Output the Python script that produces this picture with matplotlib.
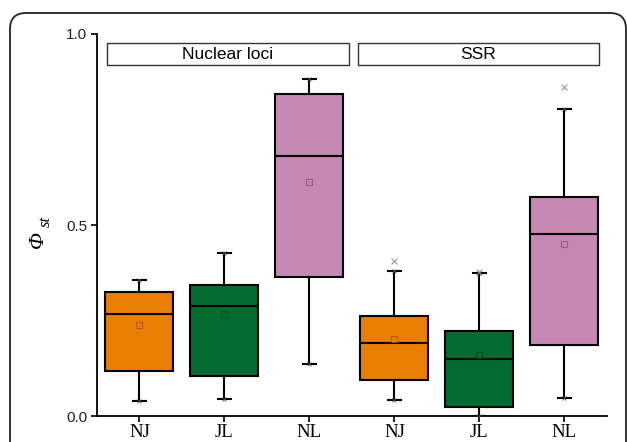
import matplotlib
matplotlib.use("Agg")
import matplotlib.pyplot as plt
from matplotlib.patches import FancyBboxPatch, Rectangle

# ---- data ----
labels = ["NJ", "JL", "NL", "NJ", "JL", "NL"]
groups = ["Nuclear loci", "SSR"]
whislo = [0.039, 0.045, 0.136, 0.042, 0.000, 0.047]
q1     = [0.118, 0.105, 0.364, 0.094, 0.024, 0.186]
med    = [0.267, 0.288, 0.681, 0.191, 0.149, 0.476]
q3     = [0.325, 0.343, 0.843, 0.262, 0.223, 0.573]
whishi = [0.356, 0.427, 0.882, 0.380, 0.374, 0.804]
means  = [0.238, 0.267, 0.613, 0.202, 0.160, 0.450]
outliers = [[], [], [], [0.406], [0.377], [0.861]]

fills = ["#E87E04", "#036B30", "#C588B2", "#E87E04", "#036B30", "#C588B2"]
mean_edges = ["#B35A00", "#02471F", "#A05A8A", "#B35A00", "#02471F", "#A05A8A"]

fig = plt.figure(figsize=(6.27, 4.42), dpi=100)

# rounded frame around the figure
frame = FancyBboxPatch((0.10, -0.3), 6.16, 4.59,
                       boxstyle="round,pad=0,rounding_size=0.16",
                       transform=fig.dpi_scale_trans, fill=False,
                       edgecolor="#222222", linewidth=1.3, clip_on=False)
fig.patches.append(frame)

ax = fig.add_axes([0.1547, 0.0588, 0.8134, 0.8643])

stats = []
for i in range(len(labels)):
    stats.append(dict(whislo=whislo[i], q1=q1[i], med=med[i], q3=q3[i],
                      whishi=whishi[i], mean=means[i], fliers=outliers[i],
                      label=labels[i]))

pos = list(range(1, len(labels) + 1))
bp = ax.bxp(stats, positions=pos, widths=0.8, patch_artist=True,
            showmeans=True, showfliers=True, capwidths=0.16,
            boxprops=dict(linewidth=1.5, edgecolor="black"),
            medianprops=dict(color="black", linewidth=1.5),
            whiskerprops=dict(color="black", linewidth=1.5),
            capprops=dict(color="black", linewidth=1.5),
            flierprops=dict(marker="x", markersize=4, markeredgecolor="#999999",
                            markeredgewidth=0.8, linestyle="none"),
            meanprops=dict(marker="s", markersize=4, markerfacecolor="none",
                           markeredgewidth=0.8, markeredgecolor="black"))
for patch, c in zip(bp["boxes"], fills):
    patch.set_facecolor(c)
for m, c in zip(bp["means"], mean_edges):
    m.set_markeredgecolor(c)

# small x markers at whisker ends (min / max)
ax.plot(pos, whislo, linestyle="none", marker="x", markersize=3,
        markeredgecolor="#555555", markeredgewidth=0.6, zorder=4)
ax.plot(pos, whishi, linestyle="none", marker="x", markersize=3,
        markeredgecolor="#555555", markeredgewidth=0.6, zorder=4)

ax.set_xlim(0.5, 6.5)
ax.set_ylim(0, 1.0)
ax.set_yticks([0.0, 0.5, 1.0])
ax.set_yticklabels(["0.0", "0.5", "1.0"], fontfamily="Liberation Sans", fontsize=11,
                   color="#222222")
ax.set_xticks(pos)
ax.set_xticklabels(labels, fontfamily="Liberation Serif", fontsize=13.5)
ax.tick_params(axis="both", direction="out", length=4, width=1.2)
ax.tick_params(axis="x", pad=1.5)
ax.tick_params(axis="y", pad=3)
for s in ["top", "right"]:
    ax.spines[s].set_visible(False)
for s in ["left", "bottom"]:
    ax.spines[s].set_linewidth(1.3)

# y label: italic Phi with subscript "st", rotated
fig.text(38 / 627, 1 - 240 / 442, "Φ", rotation=90, fontsize=16,
         fontfamily="Liberation Serif", fontstyle="italic",
         ha="center", va="center")
fig.text(45.5 / 627, 1 - 221 / 442, "st", rotation=90, fontsize=12,
         fontfamily="Liberation Serif", fontstyle="italic",
         ha="center", va="center")

# group header boxes
hdr = [(0.0196, 0.494), (0.512, 0.984)]
for (x0, x1), g in zip(hdr, groups):
    ax.add_patch(Rectangle((x0, 0.919), x1 - x0, 0.057, transform=ax.transAxes,
                           fill=True, facecolor="white", edgecolor="#333333",
                           linewidth=1.0, clip_on=False))
    ax.text((x0 + x1) / 2, 0.9475, g, transform=ax.transAxes, ha="center",
            va="center", fontsize=12.5, fontfamily="Liberation Sans")

fig.savefig("out.png", dpi=100)
